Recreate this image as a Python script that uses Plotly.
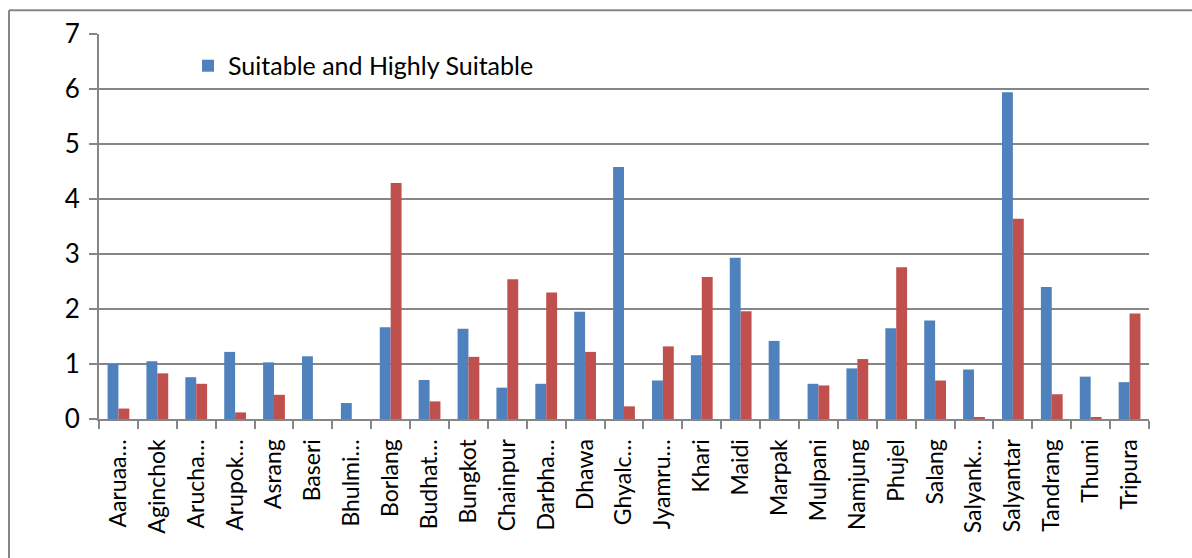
import plotly.graph_objects as go

# Village (VDC) names as shown on the category axis
villages = ["Aaruaa…", "Aginchok", "Arucha…", "Arupok…", "Asrang", "Baseri",
            "Bhulmi…", "Borlang", "Budhat…", "Bungkot", "Chainpur", "Darbha…",
            "Dhawa", "Ghyalc…", "Jyamru…", "Khari", "Maidi", "Marpak",
            "Mulpani", "Namjung", "Phujel", "Salang", "Salyank…", "Salyantar",
            "Tandrang", "Thumi", "Tripura"]

# Suitable and Highly Suitable (blue)
suitable = [1.00, 1.05, 0.76, 1.22, 1.03, 1.14, 0.29, 1.67, 0.71, 1.64,
            0.57, 0.64, 1.95, 4.58, 0.70, 1.16, 2.93, 1.42, 0.64, 0.92,
            1.65, 1.79, 0.90, 5.94, 2.40, 0.77, 0.67]

# Second series (red), not listed in the legend
second = [0.19, 0.83, 0.64, 0.12, 0.44, 0.00, 0.00, 4.29, 0.32, 1.13,
          2.54, 2.30, 1.22, 0.23, 1.32, 2.58, 1.96, 0.00, 0.61, 1.09,
          2.76, 0.70, 0.02, 3.64, 0.45, 0.02, 1.92]

y_ticks = [0, 1, 2, 3, 4, 5, 6, 7]

FONT = "Lato"
GRID = "#868686"

fig = go.Figure()
fig.add_trace(go.Bar(x=villages, y=suitable, name="Suitable and Highly Suitable",
                     marker=dict(color="#4F81BD", line=dict(width=0))))
fig.add_trace(go.Bar(x=villages, y=second, name="", showlegend=False,
                     marker=dict(color="#C0504D", line=dict(width=0))))

fig.update_layout(
    width=1192, height=558,
    margin=dict(l=99, r=43, t=34, b=139),
    paper_bgcolor="white", plot_bgcolor="white",
    barmode="group", bargap=0.44, bargroupgap=0,
    font=dict(family=FONT, size=24, color="black"),
    showlegend=True,
    legend=dict(x=0.0848, y=0.917, xanchor="left", yanchor="middle",
                bgcolor="rgba(0,0,0,0)", font=dict(size=25),
                itemwidth=30),
    xaxis=dict(
        type="category", tickangle=-90,
        showgrid=False, showline=True, linecolor=GRID, linewidth=2,
        ticks="outside", ticklen=8, tickcolor=GRID, tickwidth=2,
        tickson="boundaries", tickfont=dict(size=23), ticklabelstandoff=9,
    ),
    yaxis=dict(
        range=[0, 7], tickvals=y_ticks, ticktext=[str(v) for v in y_ticks],
        showgrid=True, gridcolor=GRID, gridwidth=2,
        showline=True, linecolor=GRID, linewidth=2,
        ticks="outside", ticklen=8, tickcolor=GRID, tickwidth=2,
        zeroline=False, tickfont=dict(size=26), ticklabelstandoff=4,
    ),
)

# Chart frame running off the right and bottom edges of the page
fig.add_shape(type="line", xref="paper", yref="paper",
              x0=-0.0857, x1=1.2, y0=1.0615, y1=1.0615,
              line=dict(color=GRID, width=2))
fig.add_shape(type="line", xref="paper", yref="paper",
              x0=-0.0857, x1=-0.0857, y0=-1.0, y1=1.0615,
              line=dict(color=GRID, width=2))

fig.write_html("out.html")
